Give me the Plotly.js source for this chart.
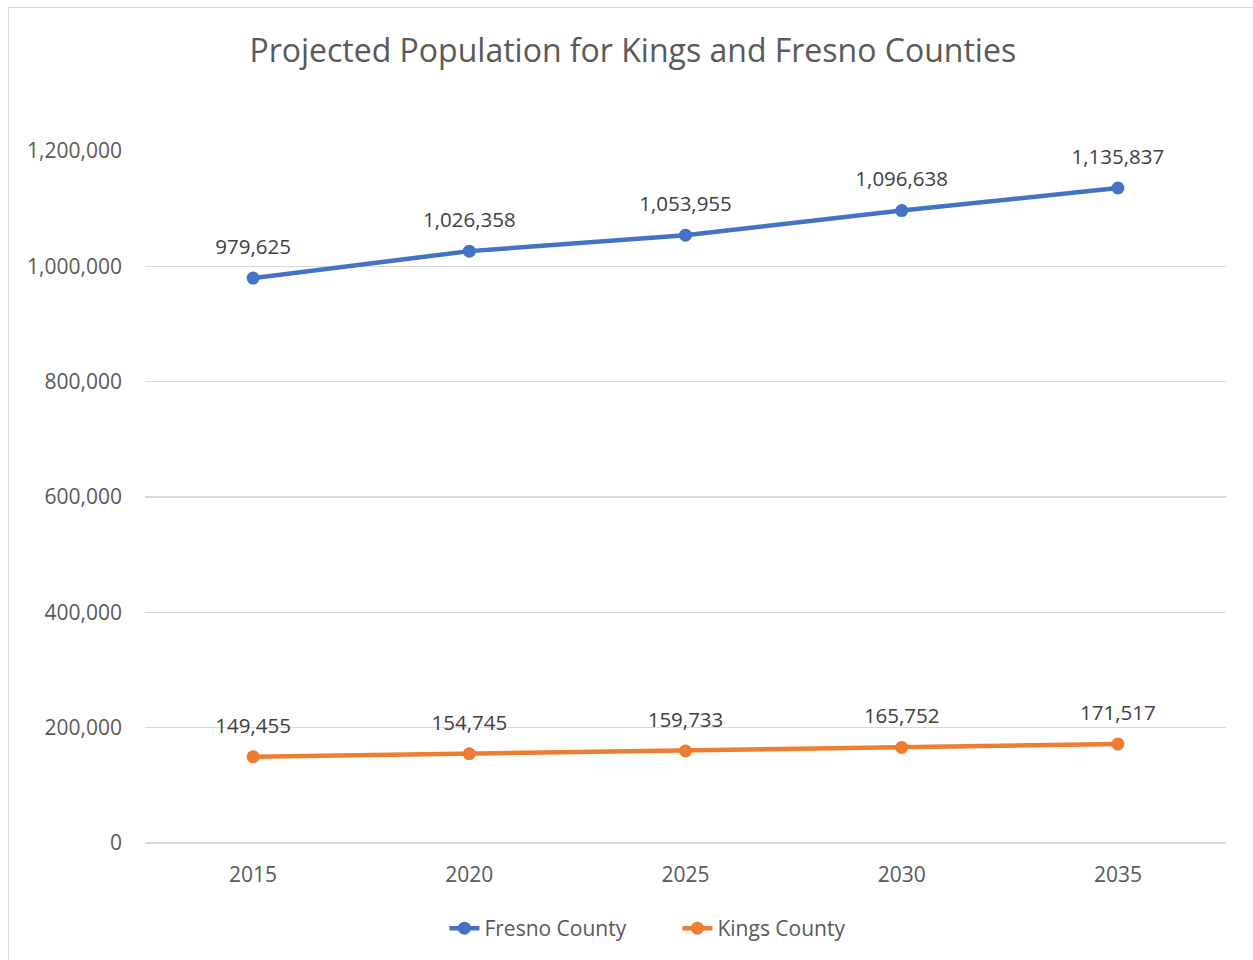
<!DOCTYPE html>
<html>
<head>
<meta charset="utf-8">
<script src="https://cdn.plot.ly/plotly-3.0.1.min.js"></script>
<style>
html,body{margin:0;padding:0;background:#fff;}
#frame{position:absolute;left:8px;top:7px;width:1300px;height:1000px;border-left:1px solid #d9d9d9;border-top:1px solid #d9d9d9;}
#chart{position:absolute;left:0;top:0;width:1253px;height:960px;}
</style>
</head>
<body>
<div id="frame"></div>
<div id="chart"></div>
<script>
const years = ["2015", "2020", "2025", "2030", "2035"];
const fresno = [979625, 1026358, 1053955, 1096638, 1135837];
const kings = [149455, 154745, 159733, 165752, 171517];
const yTicks = [0, 200000, 400000, 600000, 800000, 1000000, 1200000];

const fmt = v => v.toLocaleString('en-US');
const font = "Open Sans, Noto Sans, sans-serif";

function series(name, vals, color) {
  return {
    type: 'scatter', mode: 'lines+markers', name: name,
    x: years, y: vals,
    line: {color: color, width: 4.5},
    marker: {color: color, size: 13},
    cliponaxis: false,
    hoverinfo: 'x+y'
  };
}
function labels(vals) {
  return {
    type: 'scatter', mode: 'markers+text', showlegend: false,
    x: years, y: vals,
    text: vals.map(fmt), textposition: 'top center',
    textfont: {family: font, size: 20.5, color: '#404040'},
    marker: {size: 29, opacity: 0},
    cliponaxis: false, hoverinfo: 'skip'
  };
}

const data = [series('Fresno County', fresno, '#4472C4'), series('Kings County', kings, '#ED7D31'),
              labels(fresno), labels(kings)];

const layout = {
  width: 1253, height: 960,
  paper_bgcolor: 'rgba(0,0,0,0)', plot_bgcolor: 'rgba(0,0,0,0)',
  margin: {l: 145, r: 27, t: 151, b: 116},
  title: {text: 'Projected Population for Kings and Fresno Counties', x: 0.505, xanchor: 'center', y: 0.947, yanchor: 'middle',
          font: {family: font, size: 32, color: '#595959'}},
  xaxis: {type: 'category', range: [-0.5, 4.5], showgrid: false, zeroline: false, showline: false,
          ticks: '', tickfont: {family: font, size: 21, color: '#595959'}, ticklabelstandoff: 17},
  yaxis: {range: [0, 1200000], tickvals: yTicks, ticktext: yTicks.map(fmt), showgrid: true, gridcolor: '#d9d9d9', gridwidth: 1.3,
          zeroline: true, zerolinecolor: '#d9d9d9', zerolinewidth: 1.3, showline: false, ticks: '',
          tickfont: {family: font, size: 21, color: '#595959'}, ticklabelstandoff: 22},
  showlegend: true,
  legend: {orientation: 'h', x: 0.277, xanchor: 'left', y: -0.122, yanchor: 'middle', entrywidth: 188,
           font: {family: font, size: 21, color: '#595959'}, itemwidth: 30, tracegroupgap: 0},
  font: {family: font}
};

Plotly.newPlot('chart', data, layout, {displayModeBar: false, staticPlot: true});
</script>
</body>
</html>
